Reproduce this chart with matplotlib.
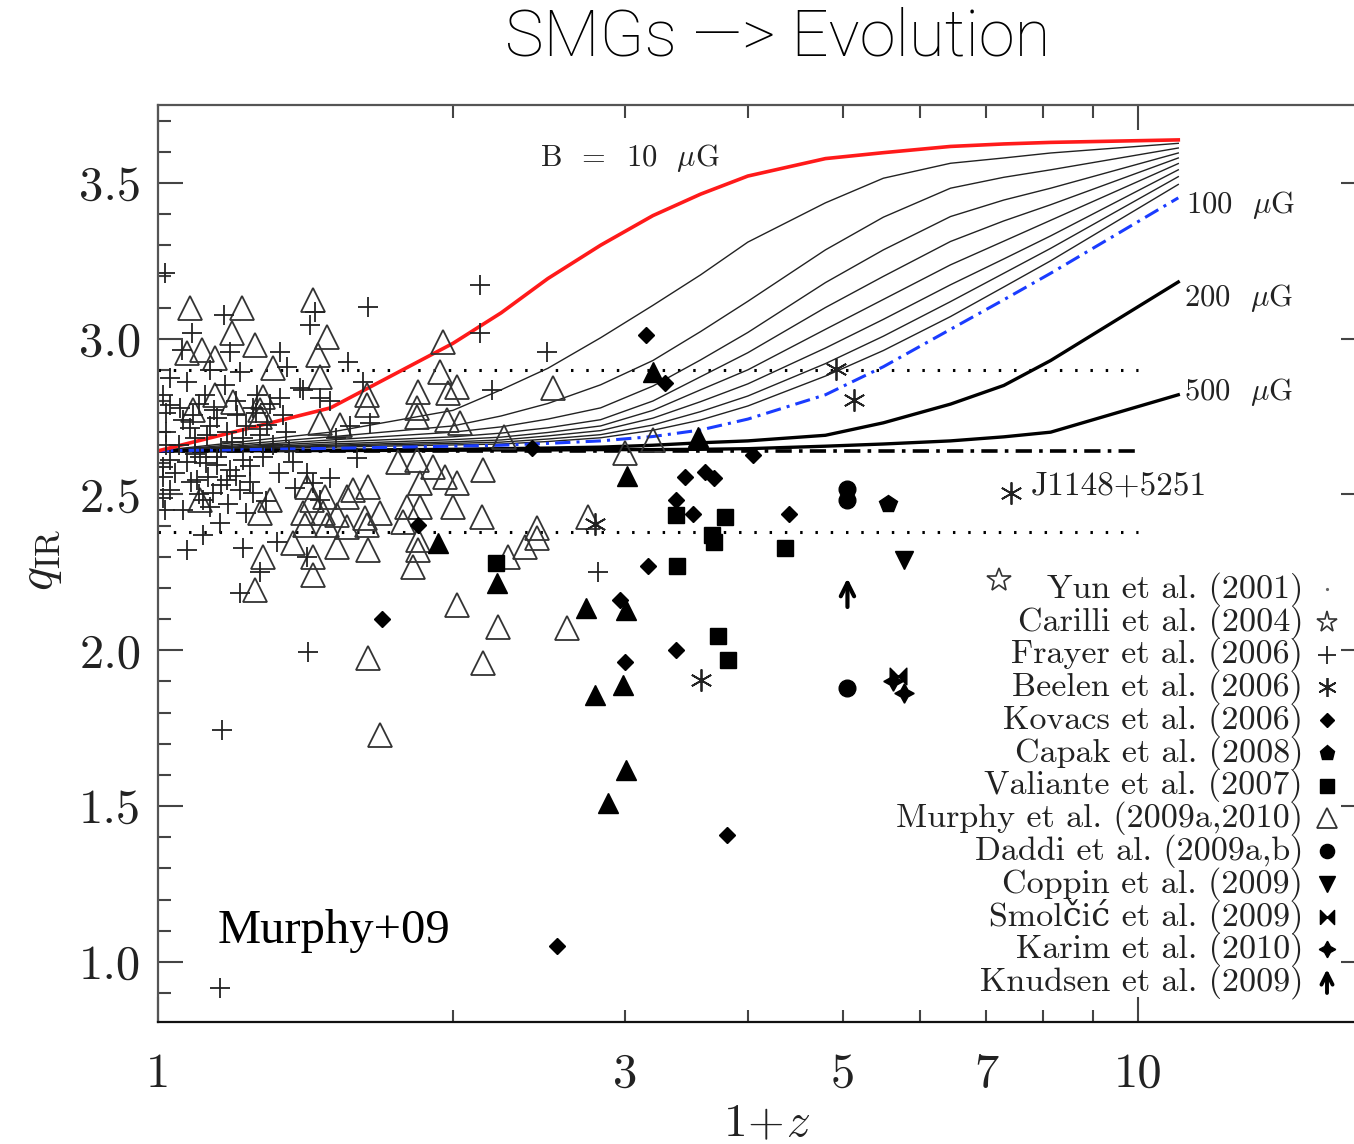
import matplotlib
matplotlib.use("Agg")
import matplotlib.pyplot as plt
from matplotlib.ticker import FixedLocator, FixedFormatter, NullFormatter

plt.rcParams['mathtext.fontset'] = 'cm'
plt.rcParams['axes.formatter.use_mathtext'] = True
SERIF = ['cmr10', 'DejaVu Serif']

# ---- model curves: q_IR vs (1+z) for different B fields ----
zgrid = [1.0, 1.5, 2.0, 2.24, 2.5, 2.83, 3.2, 3.58, 4.0, 4.8, 5.5, 6.44, 7.3, 8.15, 11.0]
q_b10 = [2.64, 2.778, 2.985, 3.083, 3.193, 3.30, 3.395, 3.464, 3.522, 3.578, 3.597, 3.617,
         3.625, 3.630, 3.638]
q_thin = [
    [2.64, 2.700, 2.770, 2.836, 2.905, 3.003, 3.107, 3.205, 3.310, 3.436, 3.515, 3.563, 3.580, 3.596, 3.627],
    [2.64, 2.685, 2.720, 2.752, 2.792, 2.852, 2.930, 3.023, 3.120, 3.285, 3.390, 3.483, 3.518, 3.542, 3.612],
    [2.64, 2.675, 2.700, 2.717, 2.742, 2.778, 2.848, 2.932, 3.020, 3.180, 3.285, 3.392, 3.445, 3.483, 3.596],
    [2.64, 2.668, 2.685, 2.697, 2.714, 2.740, 2.800, 2.878, 2.955, 3.100, 3.200, 3.312, 3.378, 3.430, 3.580],
    [2.64, 2.662, 2.676, 2.684, 2.699, 2.720, 2.770, 2.836, 2.900, 3.030, 3.126, 3.237, 3.313, 3.380, 3.562],
    [2.64, 2.658, 2.669, 2.675, 2.688, 2.705, 2.745, 2.798, 2.855, 2.970, 3.062, 3.173, 3.256, 3.330, 3.542],
    [2.64, 2.655, 2.664, 2.668, 2.678, 2.692, 2.723, 2.766, 2.816, 2.920, 3.008, 3.119, 3.210, 3.290, 3.520],
    [2.64, 2.652, 2.659, 2.662, 2.670, 2.682, 2.706, 2.739, 2.784, 2.880, 2.962, 3.071, 3.166, 3.250, 3.495],
]
q_b100 = [2.64, 2.648, 2.655, 2.658, 2.664, 2.672, 2.686, 2.707, 2.742, 2.820, 2.910, 3.030,
          3.125, 3.210, 3.452]
q_b200 = [2.64, 2.642, 2.645, 2.647, 2.649, 2.652, 2.658, 2.666, 2.672, 2.690, 2.730, 2.790,
          2.850, 2.930, 3.182]
q_b500 = [2.64, 2.641, 2.642, 2.643, 2.643, 2.644, 2.644, 2.645, 2.647, 2.655, 2.662, 2.672,
          2.685, 2.700, 2.820]

q_mean, q_lo, q_hi = 2.64, 2.38, 2.90

# ---- data points ----
frayer_z = [1.017, 2.133, 1.639, 1.168, 1.447, 1.43, 1.083, 2.133, 2.496, 1.058, 1.184, 1.332,
            1.563, 1.619, 2.194, 1.406, 1.354, 1.646, 1.498, 1.213, 1.029, 1.117, 1.171, 1.029,
            1.012, 1.053, 1.086, 1.149, 1.204, 1.262, 1.25, 1.332, 1.292, 1.341, 1.397, 1.463,
            1.176, 1.122, 1.078, 1.22, 1.029, 1.07, 1.104, 1.149, 1.184, 1.22, 1.176, 1.125,
            1.096, 1.242, 1.25, 1.213, 1.138, 1.112, 1.029, 1.374, 1.597, 1.498, 1.44, 1.463,
            1.13, 1.157, 1.112, 1.07, 1.22, 1.323, 1.419, 1.271, 1.213, 1.423, 1.162, 2.81,
            1.012, 1.012, 1.012, 1.017, 1.157,
            1.05, 1.09, 1.13, 1.16, 1.19, 1.23, 1.27, 1.31, 1.35, 1.06, 1.10, 1.14, 1.20,
            1.26, 1.30, 1.04, 1.08, 1.12, 1.16, 1.20, 1.24, 1.28, 1.33, 1.38, 1.42, 1.10,
            1.06, 1.18, 1.23, 1.29, 1.52, 1.57, 1.36, 1.15, 1.09, 1.02, 1.02, 1.02, 1.07, 1.13]
frayer_q = [3.21, 3.173, 3.102, 3.076, 3.086, 3.044, 3.019, 3.019, 2.958, 2.964, 2.958, 2.958,
            2.926, 2.861, 2.836, 2.836, 2.91, 2.73, 2.80, 2.893, 2.874, 2.82, 2.852, 2.787,
            2.82, 2.778, 2.755, 2.746, 2.755, 2.82, 2.778, 2.81, 2.724, 2.755, 2.842, 2.81,
            2.70, 2.691, 2.714, 2.682, 2.611, 2.605, 2.621, 2.595, 2.579, 2.611, 2.547, 2.557,
            2.547, 2.541, 2.505, 2.515, 2.505, 2.483, 2.515, 2.605, 2.617, 2.553, 2.537, 2.483,
            2.46, 2.409, 2.37, 2.322, 2.329, 2.348, 2.30, 2.252, 2.184, 1.995, 1.745, 2.252,
            2.589, 2.557, 2.49, 2.45, 0.917,
            2.66, 2.68, 2.72, 2.65, 2.67, 2.72, 2.69, 2.66, 2.70, 2.74, 2.79, 2.77, 2.80,
            2.76, 2.79, 2.57, 2.54, 2.60, 2.53, 2.56, 2.59, 2.62, 2.57, 2.52, 2.57, 2.50,
            2.45, 2.47, 2.44, 2.48, 2.68, 2.72, 2.64, 2.62, 2.63, 2.70, 2.66, 2.76, 2.86, 2.90]

murphy_z = [1.078, 1.219, 1.44, 1.19, 1.488, 1.109, 1.256, 1.07, 1.457, 1.144, 1.311, 1.955,
            1.94, 1.463, 2.02, 1.844, 2.53, 1.978, 1.635, 1.28, 1.84, 1.635, 1.271, 1.84,
            2.035, 1.973, 1.535, 1.463, 1.086, 1.144, 1.193, 2.253, 3.2, 3.0, 1.271,
            1.759, 1.84, 1.91, 1.965, 2.02, 2.148, 1.853, 1.639, 1.582, 1.56, 1.48, 1.419,
            1.436, 1.406, 1.474, 1.523, 1.628, 1.686, 1.797, 1.853, 2.0, 2.141, 1.78, 1.635,
            1.56, 1.488, 1.413, 1.302, 1.271, 1.104, 1.374, 1.28, 1.44, 1.44, 1.844, 1.844,
            1.822, 1.639, 1.523, 1.256, 2.02, 2.225, 2.617, 1.639, 2.148, 1.686, 2.277, 2.37,
            2.437, 2.437, 2.75]
murphy_q = [3.099, 3.099, 3.124, 3.019, 3.006, 2.964, 2.98, 2.954, 2.948, 2.938, 2.906, 2.99,
            2.893, 2.877, 2.845, 2.829, 2.842, 2.826, 2.82, 2.813, 2.778, 2.787, 2.771, 2.749,
            2.73, 2.739, 2.724, 2.73, 2.771, 2.82, 2.797, 2.685, 2.675, 2.633, 2.749,
            2.605, 2.611, 2.589, 2.557, 2.537, 2.579, 2.537, 2.524, 2.515, 2.492, 2.492, 2.524,
            2.483, 2.441, 2.441, 2.435, 2.425, 2.441, 2.46, 2.46, 2.46, 2.428, 2.412, 2.402,
            2.396, 2.402, 2.402, 2.483, 2.441, 2.483, 2.345, 2.30, 2.30, 2.242, 2.354, 2.322,
            2.268, 2.322, 2.332, 2.194, 2.146, 2.075, 2.072, 1.976, 1.96, 1.729, 2.30, 2.332,
            2.361, 2.393, 2.428]

kovacs_z = [3.145, 3.296, 2.41, 4.045, 3.454, 3.62, 3.69, 3.375, 3.52, 4.41, 3.16, 2.965,
            3.38, 3.0, 1.844, 1.693, 2.556, 3.813]
kovacs_q = [3.012, 2.858, 2.650, 2.627, 2.556, 2.573, 2.553, 2.483, 2.438, 2.438, 2.271, 2.162,
            2.001, 1.963, 2.402, 2.101, 1.051, 1.408]

valiante_z = [3.38, 3.795, 3.68, 3.69, 4.37, 3.39, 3.733, 3.82, 2.214]
valiante_q = [2.435, 2.428, 2.370, 2.348, 2.329, 2.271, 2.046, 1.969, 2.280]

filled_tri_z = [3.56, 3.013, 2.736, 3.006, 2.985, 2.795, 1.932, 2.22, 3.203, 3.006, 2.88]
filled_tri_q = [2.685, 2.560, 2.136, 2.130, 1.889, 1.857, 2.345, 2.216, 2.893, 1.616, 1.510]

beelen_z = [4.915, 5.13, 3.58, 2.79, 7.42]
beelen_q = [2.903, 2.804, 1.905, 2.406, 2.505]

daddi_z, daddi_q = [5.055, 5.055, 5.055], [2.518, 2.483, 1.879]
capak_z, capak_q = [5.555], [2.470]
coppin_z, coppin_q = [5.77], [2.290]
smolcic_z, smolcic_q = [5.69], [1.918]
karim_z, karim_q = [5.62, 5.77], [1.902, 1.863]
knudsen_z, knudsen_q = [5.055], [2.18]
carilli_z, carilli_q = [7.21], [2.226]

legend_labels = ["Yun et al. (2001)", "Carilli et al. (2004)", "Frayer et al. (2006)",
                 "Beelen et al. (2006)", "Kovacs et al. (2006)", "Capak et al. (2008)",
                 "Valiante et al. (2007)", "Murphy et al. (2009a,2010)", "Daddi et al. (2009a,b)",
                 "Coppin et al. (2009)", "Smolčić et al. (2009)", "Karim et al. (2010)",
                 "Knudsen et al. (2009)"]

xtick_major = [1, 10]
xtick_minor = [2, 3, 4, 5, 6, 7, 8, 9]
ytick_major = [1.0, 1.5, 2.0, 2.5, 3.0, 3.5]

# marker styles
asterisk = (6, 2, 0)
bowtie = [(-1, -1), (-1, 1), (1, -1), (1, 1), (-1, -1)]
fourstar = (4, 1, 0)
styles = {
    'yun': dict(marker='.', ms=3, color='#666666', ls='none'),
    'carilli': dict(marker='*', ms=18, mfc='none', mec='#333333', mew=1.2, ls='none'),
    'frayer': dict(marker='+', ms=15, mec='#222222', mew=1.3, ls='none'),
    'beelen': dict(marker=asterisk, ms=16, mec='#222222', mew=1.3, ls='none'),
    'kovacs': dict(marker='D', ms=8.5, color='black', ls='none'),
    'capak': dict(marker='p', ms=13, color='black', ls='none'),
    'valiante': dict(marker='s', ms=12, color='black', ls='none'),
    'murphy': dict(marker='^', ms=17, mfc='none', mec='#333333', mew=1.3, ls='none'),
    'daddi': dict(marker='o', ms=12, color='black', ls='none'),
    'coppin': dict(marker='v', ms=13, color='black', ls='none'),
    'smolcic': dict(marker=bowtie, ms=12, color='black', ls='none'),
    'karim': dict(marker=fourstar, ms=14, color='black', ls='none'),
}

fig = plt.figure(figsize=(13.54, 11.44), dpi=100)
ax = fig.add_axes([158/1354, 1 - 1022/1144, 1208/1354, 917/1144])
ax.set_xscale('log')
ax.set_xlim(1, 17.1)
ax.set_ylim(0.807, 3.75)

# horizontal reference lines
ax.plot([1, 10], [q_hi, q_hi], color='black', lw=2.2, ls=(0, (0.8, 4.2)))
ax.plot([1, 10], [q_lo, q_lo], color='black', lw=2.2, ls=(0, (0.8, 4.2)))
ax.plot([1, 10], [q_mean, q_mean], color='black', lw=2.6, ls=(0, (4.5, 2, 1, 2)))

# model tracks
for qs in q_thin:
    ax.plot(zgrid, qs, color='#222222', lw=1.0)
ax.plot(zgrid, q_b200, color='black', lw=2.4)
ax.plot(zgrid, q_b500, color='black', lw=2.4)
ax.plot(zgrid, q_b100, color='#1a3cff', lw=2.2, ls=(0, (5, 2, 1, 2)))
ax.plot(zgrid, q_b10, color='#ff1a1a', lw=2.6)

# data
ax.plot(murphy_z, murphy_q, **styles['murphy'])
ax.plot(frayer_z, frayer_q, **styles['frayer'])
ax.plot(kovacs_z, kovacs_q, **styles['kovacs'])
ax.plot(valiante_z, valiante_q, **styles['valiante'])
ax.plot(filled_tri_z, filled_tri_q, marker='^', ms=14, color='black', ls='none')
ax.plot(beelen_z, beelen_q, **styles['beelen'])
ax.plot(daddi_z, daddi_q, **styles['daddi'])
ax.plot(capak_z, capak_q, **styles['capak'])
ax.plot(coppin_z, coppin_q, **styles['coppin'])
ax.plot(smolcic_z, smolcic_q, **styles['smolcic'])
ax.plot(karim_z, karim_q, **styles['karim'])
ax.plot(carilli_z, carilli_q, **styles['carilli'])
for z, q in zip(knudsen_z, knudsen_q):
    ax.annotate('', xy=(z, q + 0.06), xytext=(z, q - 0.05),
                arrowprops=dict(arrowstyle='->', lw=3, color='black', mutation_scale=24))

# labels on the tracks
lab_kw = dict(family=SERIF, color='#222222')
ax.text(3.03, 3.58, r'B  =  10  $\mu$G', ha='center', va='center', fontsize=22, **lab_kw)
ax.text(11.2, 3.43, r'100  $\mu$G', ha='left', va='center', fontsize=22, **lab_kw)
ax.text(11.15, 3.131, r'200  $\mu$G', ha='left', va='center', fontsize=22, **lab_kw)
ax.text(11.15, 2.829, r'500  $\mu$G', ha='left', va='center', fontsize=22, **lab_kw)
ax.text(7.78, 2.528, 'J1148+5251', ha='left', va='center', fontsize=24, **lab_kw)

# hand-built legend (text right-aligned, marker on the right)
leg_keys = ['yun', 'carilli', 'frayer', 'beelen', 'kovacs', 'capak', 'valiante', 'murphy',
            'daddi', 'coppin', 'smolcic', 'karim', 'knudsen']
for i, (key, lab) in enumerate(zip(leg_keys, legend_labels)):
    yf = (1022 - (589 + 32.75 * i)) / 917
    ax.text((1303 - 158) / 1208, yf, lab, transform=ax.transAxes, ha='right', va='center',
            fontsize=24.5, family=SERIF, color='#222222')
    xm = (1327 - 158) / 1208
    if key == 'knudsen':
        ax.annotate('', xy=(xm, yf + 0.017), xytext=(xm, yf - 0.015), xycoords='axes fraction',
                    arrowprops=dict(arrowstyle='->', lw=2.8, color='black', mutation_scale=20))
    else:
        st = dict(styles[key])
        st['ms'] = st['ms'] * 0.85
        ax.plot([xm], [yf], transform=ax.transAxes, clip_on=False, **st)

# ticks
ax.xaxis.set_major_locator(FixedLocator(xtick_major))
ax.xaxis.set_major_formatter(FixedFormatter(['1', '10']))
ax.xaxis.set_minor_locator(FixedLocator(xtick_minor))
ax.xaxis.set_minor_formatter(FixedFormatter(['', '3', '', '5', '', '7', '', '']))
ax.yaxis.set_major_locator(FixedLocator(ytick_major))
ax.yaxis.set_major_formatter(FixedFormatter(['%.1f' % v for v in ytick_major]))
ax.yaxis.set_minor_locator(FixedLocator([0.9 + 0.1 * i for i in range(29)]))
ax.yaxis.set_minor_formatter(NullFormatter())
ax.tick_params(which='both', direction='in', top=True, right=True, color='#444444', width=1.5)
ax.tick_params(which='major', length=18)
ax.tick_params(which='minor', length=9)
ax.tick_params(axis='x', which='both', pad=22, labelsize=35, labelcolor='#222222')
ax.tick_params(axis='y', which='both', pad=12, labelsize=35, labelcolor='#222222')
for lab in ax.get_xticklabels(which='both') + ax.get_yticklabels():
    lab.set_family(SERIF)
for s in ax.spines.values():
    s.set_color('#555555')
    s.set_linewidth(1.6)
ax.spines['bottom'].set_color('#111111')

fig.text(218/1354, 1 - 931/1144, 'Murphy+09', ha='left', va='center', fontsize=35,
         family='Liberation Serif', color='black')
fig.text(40/1354, 1 - 560/1144, r'$q_{\rm IR}$', rotation=90, ha='center', va='center',
         fontsize=36, color='#222222')
fig.text(767/1354, 1 - 1124/1144, r'$1\!+\!z$', ha='center', va='center', fontsize=34,
         color='#222222')
fig.text(778/1354, 1 - 37/1144, 'SMGs \u2014> Evolution', ha='center', va='center',
         fontsize=47, family='Roboto', weight='light', color='black')

fig.savefig('out.png', dpi=100)
